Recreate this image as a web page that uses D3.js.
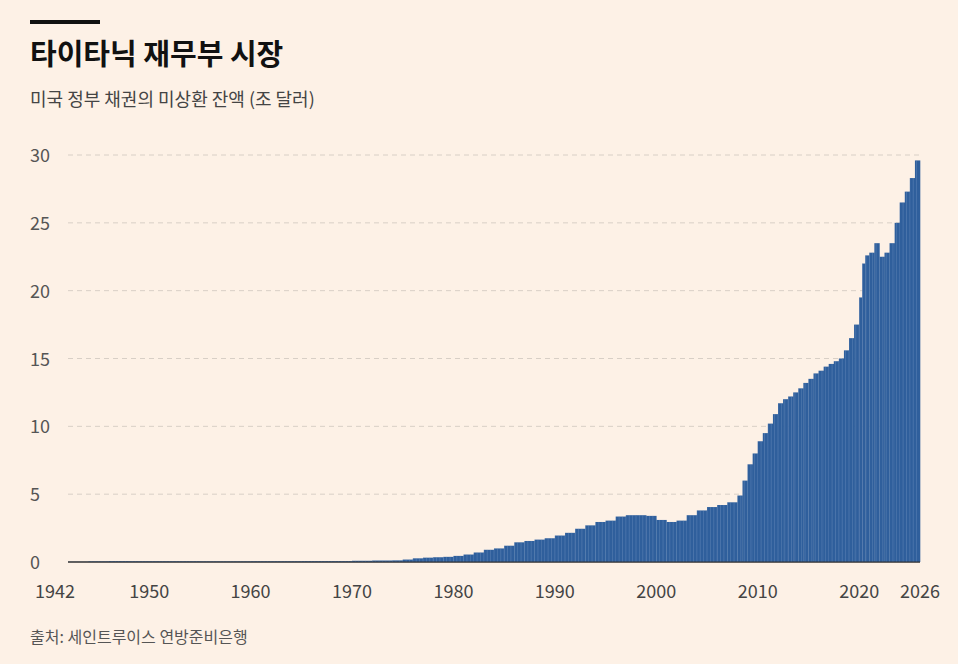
<!DOCTYPE html><html><head><meta charset="utf-8">
<script src="https://cdn.jsdelivr.net/npm/d3@7"></script>
<style>body{margin:0;background:#fdf1e6;font-family:"Noto Sans CJK KR","Noto Sans",sans-serif}</style></head><body>
<svg id="c" width="958" height="664"></svg>
<script>
const title="타이타닉 재무부 시장";
const subtitle="미국 정부 채권의 미상환 잔액 (조 달러)";
const source="출처: 세인트루이스 연방준비은행";
const yTicks=[0,5,10,15,20,25,30];
const xTicks=[1942,1950,1960,1970,1980,1990,2000,2010,2020,2026];
const years=[1942,1944,1946,1948,1950,1955,1960,1965,1970,1972,1974,1975,1976,1977,1978,1979,1980,1981,1982,1983,1984,1985,1986,1987,1988,1989,1990,1991,1992,1993,1994,1995,1996,1997,1998,1999,2000,2001,2002,2003,2004,2005,2006,2007,2008,2008.5,2009,2009.5,2010,2010.5,2011,2011.5,2012,2012.5,2013,2013.5,2014,2014.5,2015,2015.5,2016,2016.5,2017,2017.5,2018,2018.5,2019,2019.5,2020,2020.3,2020.6,2021,2021.5,2022,2022.5,2023,2023.5,2024,2024.5,2025,2025.5];
const values=[0.01,0.04,0.06,0.05,0.05,0.04,0.05,0.06,0.09,0.11,0.12,0.18,0.27,0.32,0.35,0.38,0.45,0.55,0.7,0.9,1.0,1.2,1.45,1.55,1.65,1.75,1.95,2.15,2.45,2.7,2.95,3.05,3.35,3.45,3.45,3.4,3.1,2.95,3.05,3.45,3.8,4.05,4.2,4.4,4.9,6.0,7.2,8.0,8.9,9.5,10.2,10.9,11.7,12.0,12.2,12.5,12.8,13.2,13.5,13.9,14.1,14.4,14.6,14.8,15.0,15.6,16.5,17.5,19.5,22.0,22.6,22.8,23.5,22.5,22.8,23.5,25.0,26.5,27.3,28.3,29.6];
const W=958,H=664,m={l:68,r:920,t:155,b:562};
const svg=d3.select("#c");
svg.append("rect").attr("width",W).attr("height",H).attr("fill","#fdf1e6");
svg.append("rect").attr("x",30).attr("y",20).attr("width",70).attr("height",4).attr("fill","#111");
svg.append("text").attr("x",30).attr("y",65).text(title).attr("font-size",29).attr("font-weight",700).attr("fill","#111");
svg.append("text").attr("x",30).attr("y",106).text(subtitle).attr("font-size",18).attr("fill","#444");
svg.append("text").attr("x",30).attr("y",643).text(source).attr("font-size",16).attr("fill","#555");
const x=d3.scaleLinear().domain([1942,2026]).range([m.l,m.r]);
const y=d3.scaleLinear().domain([0,30]).range([m.b,m.t]);
yTicks.forEach(t=>{
  svg.append("line").attr("x1",m.l).attr("x2",m.r).attr("y1",y(t)).attr("y2",y(t))
   .attr("stroke",t?"#d8cfc6":"#333").attr("stroke-dasharray",t?"5,4":null);
  svg.append("text").attr("x",30).attr("y",y(t)+7).text(t).attr("font-size",18).attr("fill","#555");
});
const data=years.map((yr,i)=>({x0:yr,x1:i<years.length-1?years[i+1]:2026,v:values[i]}));
svg.append("g").selectAll("rect").data(data).join("rect")
 .attr("x",d=>x(d.x0)).attr("width",d=>x(d.x1)-x(d.x0)+0.3)
 .attr("y",d=>y(d.v)).attr("height",d=>y(0)-y(d.v)).attr("fill","#2f5f9c");
const cp=svg.append("clipPath").attr("id","cl");
cp.selectAll("rect").data(data).join("rect").attr("x",d=>x(d.x0)).attr("width",d=>x(d.x1)-x(d.x0)+0.3).attr("y",d=>y(d.v)).attr("height",d=>y(0)-y(d.v));
const stripes=d3.range(1942,2026,1/3);
svg.append("g").attr("clip-path","url(#cl)").selectAll("line").data(stripes).join("line")
 .attr("x1",d=>x(d)).attr("x2",d=>x(d)).attr("y1",m.t).attr("y2",m.b)
 .attr("stroke","#8aa6cc").attr("stroke-width",0.5).attr("opacity",0.6);
svg.append("line").attr("x1",m.l).attr("x2",m.r).attr("y1",y(0)).attr("y2",y(0)).attr("stroke","#333").attr("stroke-width",1.2);
xTicks.forEach(t=>{
  svg.append("text").attr("x",t===1942?55:x(t)).attr("y",m.b+36).attr("text-anchor","middle").text(t).attr("font-size",18).attr("fill","#444");
});
</script></body></html>
